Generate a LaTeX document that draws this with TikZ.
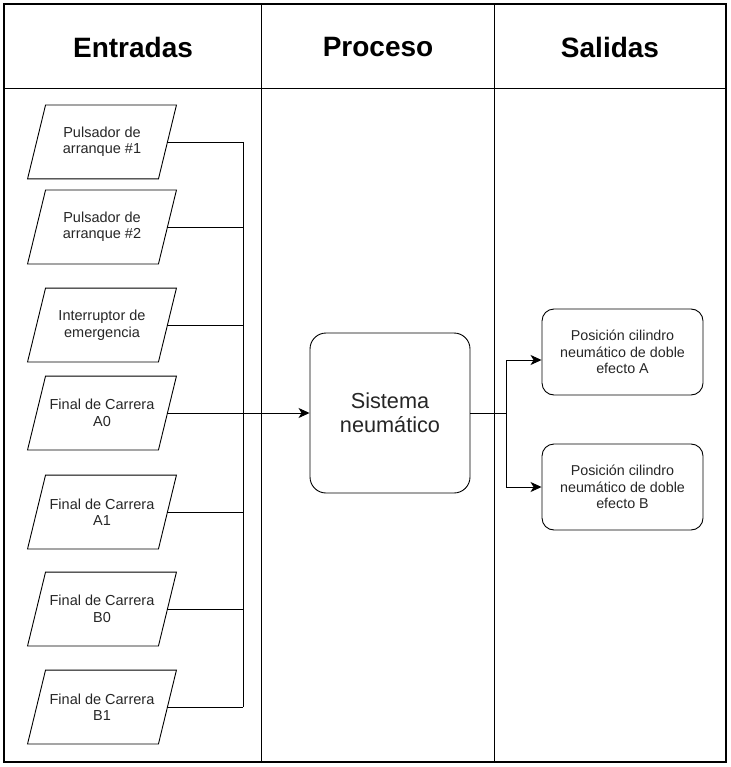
\documentclass[tikz,border=0pt]{standalone}
\usepackage{fontspec}
\setmainfont{Liberation Sans}
\usetikzlibrary{arrows.meta}

\begin{document}
\begin{tikzpicture}[x=1pt, y=-1pt, line width=0.9pt, >={Stealth[length=11pt,width=10pt,inset=3pt]},
    head/.style={font=\fontsize{28}{32}\selectfont\bfseries},
    input node/.style={minimum width=130pt, minimum height=73pt, inner sep=0pt, align=center, text=black!85,
        font=\fontsize{14.5}{16.5}\selectfont},
    proc node/.style={draw, rounded corners=16pt, minimum width=160pt, minimum height=160pt, align=center,
        text=black!85, font=\fontsize{21.7}{24}\selectfont},
    out node/.style={draw, rounded corners=12pt, minimum width=161pt, minimum height=86pt, align=center,
        inner sep=0pt, text=black!85, font=\fontsize{14.3}{16.5}\selectfont}]

    \useasboundingbox (0,0) rectangle (730,767);

    % marco y columnas
    \draw[line width=1.2pt] (4,4) rectangle (726,762);
    \draw (4,88) -- (726,88);
    \draw (261,4) -- (261,762);
    \draw (494,4) -- (494,762);

    \node[head] (entradas) at (133,47) {Entradas};
    \node[head] (proceso) at (378,47) {Proceso};
    \node[head] (salidas) at (610,47) {Salidas};

    % entradas
    \node[input node] (in1) at (102,142) {Pulsador de\\arranque \#1};
    \node[input node] (in2) at (102,227) {Pulsador de\\arranque \#2};
    \node[input node] (in3) at (102,325) {Interruptor de\\emergencia};
    \node[input node] (in4) at (102,413) {Final de Carrera\\A0};
    \node[input node] (in5) at (102,512) {Final de Carrera\\A1};
    \node[input node] (in6) at (102,609) {Final de Carrera\\B0};
    \node[input node] (in7) at (102,707) {Final de Carrera\\B1};

    % paralelogramos
    \foreach \n in {in1,in2,in3,in4,in5,in6,in7}
        \draw ([xshift=9pt]\n.north west) -- ([xshift=9pt]\n.north east)
            -- ([xshift=-9pt]\n.south east) -- ([xshift=-9pt]\n.south west) -- cycle;

    \node[proc node] (sis) at (390,413) {Sistema\\neumático};

    \node[out node] (outA) at (622.5,352) {Posición cilindro\\neumático de doble\\efecto A};
    \node[out node] (outB) at (622.5,487) {Posición cilindro\\neumático de doble\\efecto B};

    \coordinate (bus) at (243,413);
    \coordinate (split) at (506,413);

    \draw (in1.east) -- (in1.east -| bus);
    \draw (in2.east) -- (in2.east -| bus);
    \draw (in3.east) -- (in3.east -| bus);
    \draw (in5.east) -- (in5.east -| bus);
    \draw (in6.east) -- (in6.east -| bus);
    \draw (in7.east) -- (in7.east -| bus);
    \draw (in1.east -| bus) -- (in7.east -| bus);
    \draw[->] (in4.east) -- (sis.west);

    \draw (sis.east) -- (split);
    \draw[->] (split) |- ([yshift=-8pt]outA.west);
    \draw[->] (split) |- (outB.west);
\end{tikzpicture}
\end{document}
